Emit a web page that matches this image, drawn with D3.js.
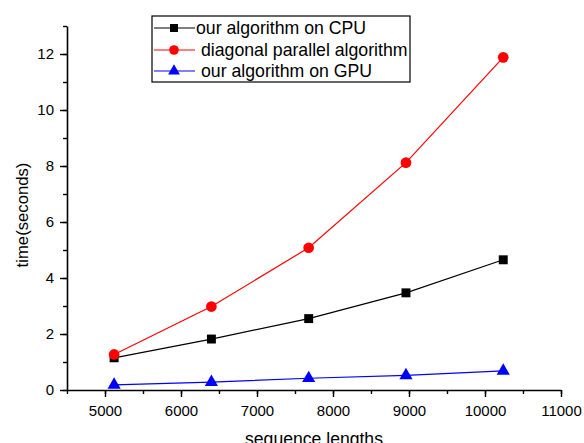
<!DOCTYPE html>
<html>
<head>
<meta charset="utf-8">
<script src="https://cdn.jsdelivr.net/npm/d3@7"></script>
<style>
  body { margin: 0; background: #fff; }
  svg text { font-family: "Liberation Sans", Arial, sans-serif; }
</style>
</head>
<body>
<div id="chart"></div>
<script>
// chart data
const lengths = [5120, 6400, 7680, 8960, 10240];
const cpuTimes = [1.15, 1.82, 2.55, 3.47, 4.65];
const diagTimes = [1.27, 2.98, 5.08, 8.12, 11.88];
const gpuTimes = [0.18, 0.28, 0.42, 0.52, 0.68];
const seriesNames = ["our algorithm on CPU", "diagonal parallel algorithm", "our algorithm on GPU"];
const xTicks = [5000, 6000, 7000, 8000, 9000, 10000, 11000];
const yTicks = [0, 2, 4, 6, 8, 10, 12];

const width = 584, height = 443;

const svg = d3.select('#chart')
  .append('svg')
  .attr('width', width)
  .attr('height', height);

// scales
const x = d3.scaleLinear().domain([4500, 11000]).range([67, 561]);
const y = d3.scaleLinear().domain([0, 13]).range([390, 26]);

// x axis: minor ticks then major ticks with labels
const xMinor = svg.append('g').attr('transform', `translate(0,${y(0)})`)
  .call(d3.axisBottom(x).tickValues(d3.range(4500, 11001, 500)).tickSize(4).tickFormat(''));
xMinor.select('.domain').remove();
const xMajor = svg.append('g').attr('transform', `translate(0,${y(0)})`)
  .call(d3.axisBottom(x).tickValues(xTicks).tickSize(7).tickSizeOuter(0).tickPadding(8).tickFormat(d3.format('d')));
xMajor.selectAll('text').style('font-size', '15px').attr('fill', '#000');

// y axis
const yMinor = svg.append('g').attr('transform', `translate(${x(4500)},0)`)
  .call(d3.axisLeft(y).tickValues(d3.range(0, 13.01, 1)).tickSize(4).tickFormat(''));
yMinor.select('.domain').remove();
const yMajor = svg.append('g').attr('transform', `translate(${x(4500)},0)`)
  .call(d3.axisLeft(y).tickValues(yTicks).tickSize(7).tickSizeOuter(0).tickPadding(6));
yMajor.selectAll('text').style('font-size', '15px').attr('fill', '#000');

svg.selectAll('.domain').attr('stroke-width', 1.6);
svg.selectAll('.tick line').attr('stroke-width', 1.4);

// axis titles
svg.append('text')
  .attr('transform', `translate(28,215) rotate(-90)`)
  .attr('text-anchor', 'middle')
  .style('font-size', '16.7px')
  .text('time(seconds)');
svg.append('text')
  .attr('x', 314).attr('y', 445)
  .attr('text-anchor', 'middle')
  .style('font-size', '17.6px')
  .text('sequence lengths');

// series
const series = [
  { name: seriesNames[0], values: cpuTimes, color: '#000000', shape: d3.symbolSquare, size: 80 },
  { name: seriesNames[1], values: diagTimes, color: '#ff0000', shape: d3.symbolCircle, size: 90 },
  { name: seriesNames[2], values: gpuTimes, color: '#0000ff', shape: d3.symbolTriangle, size: 75 }
];

const line = d3.line()
  .x((d, i) => x(lengths[i]))
  .y(d => y(d));

series.forEach(s => {
  svg.append('path')
    .datum(s.values)
    .attr('fill', 'none')
    .attr('stroke', s.color)
    .attr('stroke-width', 1.2)
    .attr('d', line);
  svg.append('g')
    .selectAll('path')
    .data(s.values)
    .enter()
    .append('path')
    .attr('transform', (d, i) => `translate(${x(lengths[i])},${y(d)})`)
    .attr('d', d3.symbol().type(s.shape).size(s.size))
    .attr('fill', s.color);
});

// legend
const legend = svg.append('g');
legend.append('rect')
  .attr('x', 152).attr('y', 16)
  .attr('width', 258).attr('height', 66)
  .attr('fill', '#fff')
  .attr('stroke', '#000')
  .attr('stroke-width', 1.2);
const rowY = [28, 50, 71];
const textX = [196, 201, 201];
series.forEach((s, i) => {
  legend.append('line')
    .attr('x1', 154).attr('x2', 195)
    .attr('y1', rowY[i]).attr('y2', rowY[i])
    .attr('stroke', s.color).attr('stroke-width', 1.2);
  legend.append('path')
    .attr('transform', `translate(174,${rowY[i]})`)
    .attr('d', d3.symbol().type(s.shape).size(s.size * 0.8))
    .attr('fill', s.color);
  legend.append('text')
    .attr('x', textX[i]).attr('y', rowY[i] + 6)
    .style('font-size', '17.7px')
    .text(s.name);
});
</script>
</body>
</html>
